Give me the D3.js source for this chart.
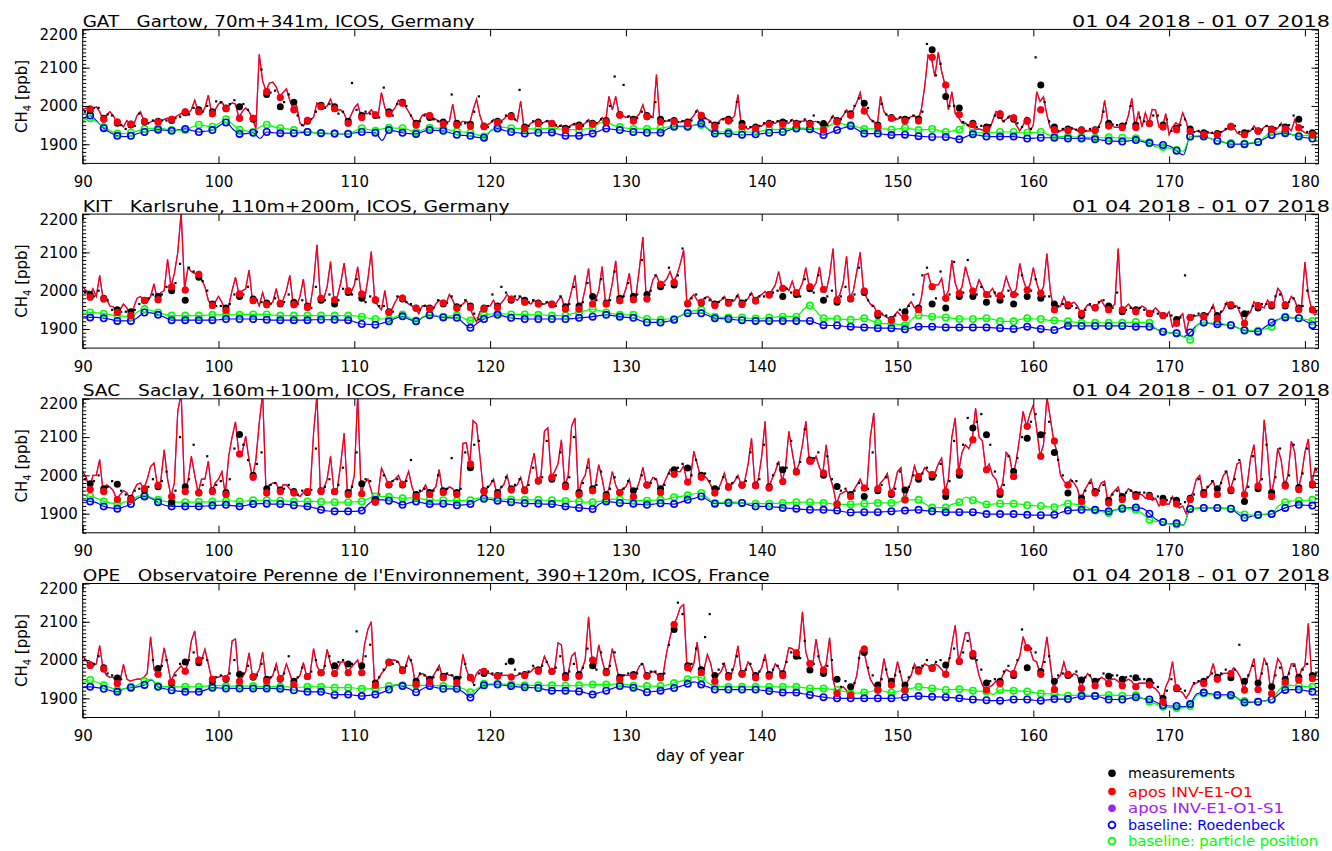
<!DOCTYPE html>
<html><head><meta charset="utf-8">
<script src="https://cdn.jsdelivr.net/npm/d3@7/dist/d3.min.js"></script>
<style>
html,body{margin:0;padding:0;background:#fff;}
svg text{font-family:"DejaVu Sans",sans-serif;fill:#000;}
</style></head>
<body>
<svg id="chart" width="1332" height="851"></svg>
<script>
// ---------------- DATA (CH4 ppb, day of year 90..180) ----------------
const dayTicks = [90,100,110,120,130,140,150,160,170,180];
const ppbTicks = [1900,2000,2100,2200];
const stationTitles = [
  "GAT   Gartow, 70m+341m, ICOS, Germany",
  "KIT   Karlsruhe, 110m+200m, ICOS, Germany",
  "SAC   Saclay, 160m+100m, ICOS, France",
  "OPE   Observatoire Perenne de l'Environnement, 390+120m, ICOS, France"
];
const periodLabel = "01 04 2018 - 01 07 2018";
const legendLabels = ["measurements","apos INV-E1-O1","apos INV-E1-O1-S1","baseline: Roedenbeck","baseline: particle position"];

// model (apos) : 4 values per day (00,06,12,18 h)
const gatModel = [
[1990,1995,1988,1992],[1998,1985,1965,1975],[1985,1975,1958,1955],[1945,1962,1953,1950],[1975,1985,1962,1955],
[1958,1962,1958,1960],[1965,1968,1965,1970],[1975,1980,1985,1980],[1990,2015,1985,1980],[1995,2028,1980,1990],
[2005,2010,1995,2000],[2008,2005,1970,1985],[1995,1985,1968,1940],[2135,2065,2040,2060],[2062,2050,2025,2035],
[2045,2015,1992,2000],[1955,1948,1963,1965],[1970,2008,1998,1995],[2000,2018,1993,1990],[1990,1980,1958,1975],
[1995,2005,1972,1980],[1980,1990,1978,1975],[2035,1995,1980,1985],[1995,2015,2007,2000],[1985,1970,1952,1960],
[1975,1980,1975,1970],[1965,1960,1955,1958],[1960,2005,1952,1955],[1960,1958,1955,1990],[2018,1975,1948,1950],
[1955,1965,1957,1960],[1965,1975,1972,1968],[1960,2013,1941,1945],[1955,1960,1954,1955],[1958,1962,1954,1950],
[1945,1950,1937,1945],[1950,1955,1946,1950],[1955,1965,1952,1955],[1958,1970,1959,2025],[1990,2025,1976,1975],
[1970,1975,1961,1970],[1980,2003,1972,1975],[1970,2082,1959,1962],[1960,1965,1959,1960],[1958,1962,1954,1965],
[1975,1990,1976,1970],[1965,1960,1946,1955],[1965,1968,1961,1965],[1975,2030,1946,1945],[1940,1945,1941,1945],
[1948,1955,1952,1955],[1955,1962,1952,1955],[1955,1965,1952,1960],[1960,1962,1952,1958],[1960,1955,1937,1950],
[1960,1975,1959,1965],[1975,1990,1976,1990],[2010,2035,1987,1980],[1965,1960,1946,2025],[1985,1975,1968,1970],
[1965,1972,1961,1968],[1972,1975,1962,1990],[2050,2133,2125,2077],[2140,2090,2055,1990],[2037,1980,1970,1955],
[1955,1947,1950,1939],[1940,1937,1938,1938],[1960,1986,1980,1960],[1965,1975,1969,1950],[1935,1950,1969,1934],
[1950,2037,2012,2024],[1977,1943,1938,1930],[1935,1938,1936,1940],[1940,1935,1936,1934],[1935,1935,1936,1943],
[1960,2015,1956,1950],[1944,1944,1944,1947],[1975,2020,1944,1986],[1945,1982,1954,1991],[1990,1945,1943,1980],
[1925,1945,1956,1950],[1982,1960,1925,1930],[1934,1932,1925,1928],[1930,1928,1925,1930],[1935,1940,1947,1945],
[1930,1925,1925,1930],[1935,1948,1934,1935],[1945,1948,1938,1935],[1942,1955,1940,1945],[1935,1964,1943,1936],
[1930,1928,1925,1925]];
const kitModel = [
[2010,2000,1983,2005],[1985,2040,1978,1980],[1960,1958,1943,1950],[1965,1955,1935,1955],[1980,1985,1974,1970],
[1985,2018,1976,1995],[2000,2082,2010,2045],[2100,2205,2005,2060],[2050,2045,2040,2030],[2010,1975,1960,1970],
[1985,1970,1948,1960],[2000,2035,1991,2000],[2005,2054,1974,1980],[1960,1995,1963,1965],[1970,2005,1967,1975],
[2000,2040,1963,1960],[1985,2030,1956,1960],[2020,2120,1980,1980],[2010,2076,1976,1985],[2020,2072,2000,1995],
[2015,2062,1991,1975],[2030,2102,1976,1960],[1950,2000,1943,1950],[1970,1985,1981,1975],[1965,1960,1954,1940],
[1960,1962,1952,1950],[1965,1975,1968,1965],[1990,1975,1954,1960],[1965,1975,1956,1935],[1918,1945,1952,1960],
[1960,1975,1956,1965],[1975,1990,1978,1980],[1975,1985,1970,1970],[1965,1975,1965,1965],[1965,1970,1963,1960],
[1975,1985,1952,1965],[2000,2040,1952,1965],[2005,2058,1965,1975],[2000,2063,1965,1975],[2020,2078,1974,1980],
[2005,2045,1976,1990],[2060,2140,1978,1995],[2030,2040,2017,2020],[2030,2050,2024,2040],[2070,2106,1962,1980],
[1990,1975,1970,1980],[1985,1978,1961,1970],[1975,1985,1967,1970],[1975,1990,1964,1970],[1980,1995,1973,1985],
[1990,1998,1989,2000],[2015,2050,2006,2010],[2000,2025,1995,2000],[2020,2060,2010,2005],[2020,2062,2003,2000],
[2040,2110,1976,1990],[2020,2090,1980,2000],[2050,2100,1999,1980],[1965,1960,1941,1940],[1935,1930,1923,1935],
[1945,1935,1930,1960],[1971,1955,1950,1980],[2041,2045,2010,2015],[2015,2032,1980,2000],[2080,2020,1993,2010],
[2063,2030,1999,2000],[2028,2010,1990,1995],[2006,1985,1987,2000],[2036,2010,1990,2005],[2071,2030,2002,2015],
[2060,2020,1993,2010],[2097,2000,1950,1955],[1960,1984,1963,1965],[1970,1960,1941,1950],[1963,1960,1956,1965],
[1975,1960,1950,1955],[1965,2110,1950,1955],[1965,1955,1945,1950],[1960,1955,1941,1945],[1955,1945,1935,1935],
[1945,1905,1915,1930],[1940,1890,1930,1932],[1935,1935,1932,1935],[1945,1963,1928,1940],[1950,1970,1963,1960],
[1960,1940,1915,1935],[1945,1971,1961,1960],[1955,1975,1963,1970],[2006,1995,1963,1965],[1985,1975,1950,1960],
[2075,1990,1950,1935]];
const sacModel = [
[2010,1995,1963,2000],[2000,2041,1958,1975],[1970,1960,1937,1950],[1960,1955,1937,1960],[1976,1980,1965,1990],
[2023,2032,1974,1985],[2067,1990,1945,1980],[2167,2215,1958,1985],[2050,2000,1954,1990],[1990,2037,1955,1980],
[1990,2010,1950,2050],[2100,2140,2056,2060],[2102,2040,1995,2040],[2137,2215,1954,1975],[1980,1980,1958,1975],
[1975,1965,1954,1950],[1945,1955,1958,1960],[2110,2210,1958,1965],[1990,2050,1958,1965],[2030,2110,1950,1960],
[2000,2210,1952,1980],[1990,1960,1930,1950],[2019,2000,1976,1985],[1990,2000,1977,1985],[2010,1970,1945,1955],
[1960,1975,1950,1960],[1970,2015,1955,1960],[1970,1965,1950,1960],[2084,2085,2030,2143],[2134,2050,1958,1965],
[1975,1990,1950,1965],[1975,2000,1962,1970],[1975,1995,1960,1975],[2020,2058,1985,2000],[2115,2124,1995,2010],
[2030,2093,1970,2000],[2128,2150,1950,1985],[2000,2045,1960,1975],[2028,1990,1945,1965],[2010,1975,1955,1965],
[1970,1990,1945,1960],[1985,2021,1975,1980],[1995,1990,1955,1975],[1995,2015,2003,2010],[2010,2025,1983,1990],
[2063,2030,1995,2000],[1990,1975,1954,1960],[1980,2006,1969,1975],[1985,2000,1974,1985],[2030,2097,1973,1990],
[2050,2141,1967,1990],[2010,2037,1984,2020],[2115,2060,2009,2030],[2080,2141,2037,2030],[2050,2020,2006,2080],
[2000,1970,1925,1950],[1955,1960,1945,1960],[1975,1990,1967,1970],[2100,2163,1965,1980],[1990,2005,1954,1970],
[2010,2020,1936,1960],[1985,2025,1997,2000],[2020,2010,2002,2005],[2030,2045,1958,1990],[2100,2150,2010,2060],
[2080,2070,2093,2176],[2100,2090,2015,2030],[2000,1990,1958,1980],[2060,2050,1997,2040],[2100,2167,2128,2160],
[2184,2120,2050,2080],[2205,2150,2090,2060],[2000,1985,1975,1990],[1980,1965,1932,1960],[1975,1990,1954,1960],
[1980,1985,1928,1950],[1960,1970,1937,1950],[1965,1960,1945,1950],[1950,1940,1945,1935],[1940,1920,1930,1925],
[1925,1945,1925,1915],[1920,1900,1937,1955],[1990,2000,1950,1965],[1975,1985,1950,1975],[2000,2010,1963,1990],
[2030,2035,1950,1975],[2045,2080,1972,1990],[2145,2060,1945,1990],[2071,2040,1972,2000],[2089,2060,1963,2000],
[2060,2095,1978,2020]];
const opeModel = [
[2010,2000,1986,1985],[1990,2038,1977,1960],[1955,1955,1939,1945],[1989,1950,1945,1948],[1950,1950,1955,1965],
[2061,1975,1963,1980],[2032,1990,1943,1965],[1975,1985,1971,1990],[2050,2076,2000,2000],[2028,1990,1950,1955],
[1955,1960,1952,1965],[2050,2055,1945,1955],[1970,2019,1957,1960],[1975,2021,1945,1950],[1960,1990,1952,1960],
[1990,1965,1936,1950],[1960,1993,1957,1965],[2030,1985,1967,1975],[2028,1990,1965,1975],[1995,1995,1967,1980],
[1990,2000,1967,2040],[2080,2100,1934,1950],[1965,1975,1993,2000],[2000,1995,1972,1980],[2010,1990,1937,1960],
[1965,1960,1943,1955],[1970,1986,1954,1965],[1960,1960,1941,1950],[2015,1975,1954,1940],[1965,1975,1971,1965],
[1965,1960,1958,1960],[1960,1960,1956,1958],[1960,1965,1960,1965],[1970,1980,1971,1980],[2010,1990,1971,1975],
[2045,2040,1954,1965],[2010,2019,1958,1975],[2000,2113,2000,1980],[2040,2000,1967,1980],[2030,1990,1950,1960],
[1960,1960,1958,1965],[1985,1990,1958,1965],[1970,1965,1954,1965],[2020,2060,2093,2110],[2137,2145,1980,1970],
[1990,2047,1967,1975],[2015,1990,1945,1960],[1970,1990,1956,1960],[1990,2037,1963,1970],[1995,1980,1954,1965],
[1980,2015,1958,1965],[1990,1980,1960,1990],[2032,2030,2019,2030],[2126,2020,1991,1985],[2055,2000,1974,1990],
[2058,1950,1913,1925],[1930,1920,1909,1930],[1960,2024,2029,1985],[1950,1935,1922,1945],[2004,1960,1935,1950],
[1996,1960,1922,1945],[1960,1990,1971,1975],[1990,1985,1978,1990],[1985,1975,1963,1990],[2040,2091,1997,2030],
[2071,2071,2017,2000],[1960,1935,1922,1930],[1935,1945,1939,1960],[1975,1970,1965,1990],[2010,2061,2032,2030],
[2000,1995,1963,2000],[2061,1990,1923,1950],[1960,1995,1963,1955],[1965,1960,1926,1950],[1965,1955,1933,1945],
[1955,1950,1939,1950],[1950,1945,1933,1945],[1950,1945,1930,1940],[1940,1940,1935,1930],[1925,1915,1891,1930],
[1950,1996,1928,1920],[1915,1900,1915,1935],[1940,1945,1939,1950],[1960,1991,1950,1960],[1965,1965,1965,1980],
[1970,1955,1922,1950],[1975,2004,1923,1960],[2004,1985,1913,1960],[2004,1990,1942,1960],[1990,1990,1948,1975],
[1985,2096,1952,1960]];

// measurements : 3 samples per day (04,12,20 h)
const gatObs = [
[1985,1988,1995],[1995,1970,1978],[1975,1955,1950],[1940,1950,1948],[1980,1958,1955],
[1962,1960,1962],[1962,1960,1968],[1972,1982,1978],[1995,1990,1985],[2000,1985,2012],
[2010,1995,2005],[2015,1998,2005],[1990,1965,1932],[2095,2030,2035],[2040,2000,2010],
[2030,1985,1975],[1950,1960,1965],[1985,2002,1995],[2005,1998,1980],[1985,1960,2060],
[1990,1975,1985],[1980,1975,1970],[2048,1985,1975],[2005,2010,2000],[1975,1955,1960],
[1975,1970,1965],[1960,1958,1955],[2030,1955,1952],[1955,1952,1985],[2025,1948,1945],
[1960,1960,1958],[1975,1975,1965],[2042,1945,1948],[1960,1958,1955],[1960,1955,1950],
[1948,1942,1945],[1952,1950,1948],[1960,1955,1955],[1965,1962,2000],[2077,1978,2055],
[1972,1965,1968],[1985,1975,1972],[2010,1965,1960],[1962,1962,1958],[1960,1958,1962],
[1985,1972,1968],[1958,1950,1955],[1965,1965,1962],[2010,1955,1945],[1945,1945,1948],
[1955,1955,1958],[1960,1958,1960],[1962,1955,1958],[1965,1955,1975],[1958,1954,1950],
[1970,1962,1965],[1985,1980,2000],[2020,2007,1995],[1960,1950,2005],[1978,1970,1965],
[1970,1965,1968],[1975,1966,1985],[2162,2147,2080],[2110,2025,2000],[2000,1995,1958],
[1950,1955,1945],[1948,1945,1950],[1975,1975,1960],[1970,1965,1955],[1945,1962,1940],
[2127,2055,2010],[1960,1945,1935],[1940,1940,1942],[1938,1938,1935],[1940,1938,1945],
[1985,1955,1952],[1950,1948,1955],[2000,1950,1970],[1960,1955,1975],[1975,1950,1965],
[1935,1942,1950],[1965,1940,1932],[1935,1930,1932],[1930,1928,1932],[1940,1945,1948],
[1932,1930,1935],[1940,1935,1938],[1948,1940,1942],[1950,1945,1950],[1975,1965,1945],
[1932,1930,1928]];
const kitObs = [
[1995,1990,1985],[2000,1980,1975],[1950,1948,1945],[1945,1945,1950],[1965,1975,1980],
[1990,1985,1990],[2010,2000,2020],[2070,1975,2060],[2050,2035,2025],[2000,1965,1960],
[1960,1955,1965],[1990,1985,1990],[2010,1978,1975],[1970,1968,1965],[1980,1965,1970],
[1990,1970,1965],[1975,1960,1955],[2010,1975,1975],[1990,1965,1975],[2005,1995,1990],
[2030,1980,1970],[1985,1975,1960],[1960,1945,1945],[1985,1978,1970],[1965,1955,1950],
[1960,1955,1955],[1975,1965,1968],[1985,1958,1960],[1975,1960,1940],[1925,1955,1960],
[1990,1960,2010],[1995,1975,1985],[1985,1975,1970],[1975,1968,1965],[1970,1965,1960],
[1985,1958,1965],[2010,1960,1970],[2020,1985,1975],[2030,1968,1975],[2050,1980,1985],
[2020,1985,1990],[2080,1990,2000],[2040,2010,2015],[2060,2015,2040],[2110,1965,1980],
[1990,1968,1980],[1975,1965,1970],[1980,1970,1975],[1985,1968,1975],[1990,1975,1985],
[1985,1990,1995],[2000,1985,2005],[1995,1990,1985],[2030,2005,1995],[2040,1975,1985],
[2000,1970,1985],[2010,1978,1990],[2060,1995,1975],[1960,1935,1940],[1935,1925,1935],
[1950,1945,1960],[1990,1955,2040],[2060,1965,1980],[2050,1955,1990],[2075,1985,1995],
[2080,1985,1990],[2010,1970,1985],[1995,1975,1985],[2000,1965,1990],[2040,1985,2000],
[2030,1980,1985],[1985,1965,1960],[1965,1960,1960],[1955,1935,1950],[1965,1955,1970],
[1975,1960,1955],[1995,1945,1950],[1955,1950,1955],[1950,1940,1945],[1940,1935,1935],
[1935,1925,1930],[2040,1930,1935],[1940,1935,1938],[1955,1935,1945],[1965,1960,1958],
[1955,1940,1945],[1960,1955,1965],[1965,1960,1985],[1990,1960,1970],[1980,1955,1960],
[2000,1950,1945]];
const sacObs = [
[1990,1978,1985],[2000,1965,1970],[1985,1977,1960],[1950,1940,1960],[1965,1962,1970],
[1990,1970,1985],[2010,1930,1960],[2100,1970,1990],[2080,1955,1975],[2050,1960,1975],
[1985,1955,1990],[2070,2107,2080],[2040,2000,2030],[2060,1965,1975],[1980,1962,1965],
[1975,1958,1950],[1960,1955,1962],[2070,1960,1970],[1990,1958,1975],[2020,1955,1970],
[2060,1978,1990],[1985,1935,1950],[2000,1975,1985],[1990,1975,1985],[2040,1950,1960],
[1965,1955,1960],[2000,1960,1965],[2045,1955,1965],[2060,2020,2080],[2090,1960,1970],
[1985,1955,1970],[1995,1965,1975],[1990,1962,1975],[2020,1985,1995],[2090,1990,2000],
[2060,1975,1995],[2100,1955,1980],[2020,1965,1975],[2010,1950,1965],[1995,1955,1965],
[1985,1960,1965],[2000,1975,1980],[1990,1965,1975],[2005,2015,2020],[2030,2019,2000],
[2040,2000,2005],[1985,1965,1965],[1995,1970,1980],[1995,1975,1985],[2060,1975,1990],
[2080,1970,2000],[2030,2015,2020],[2090,2010,2035],[2120,2040,2045],[2060,2000,2050],
[1990,1971,1960],[1965,1950,1960],[1980,1945,1965],[2060,1960,1975],[1995,1950,1965],
[2010,1962,1970],[2000,1990,2005],[2020,1995,2000],[2030,1945,1985],[2090,2000,2080],
[2150,2124,2140],[2160,2106,2080],[2010,1950,1975],[2050,2010,2045],[2100,2097,2140],
[2160,2106,2110],[2140,2060,2040],[2000,1954,1985],[1985,1941,1960],[1980,1958,1960],
[1975,1935,1950],[1960,1945,1955],[1960,1950,1955],[1955,1948,1940],[1945,1940,1935],
[1940,1935,1925],[1930,1940,1950],[1990,1955,1970],[1985,1965,1980],[2010,1960,1990],
[2040,1932,1970],[2050,1965,1990],[2080,1955,1995],[2070,1975,2000],[2080,1968,2005],
[2070,1975,2015]];
const opeObs = [
[2000,1988,1990],[2010,1980,1965],[1960,1953,1950],[null,null,null],[null,null,null],
[2000,1978,1985],[2000,1940,1960],[1990,1995,2000],[2020,1993,2005],[2000,1945,1955],
[1960,1950,1965],[2000,1963,1965],[1985,1955,1960],[1990,1950,1955],[1975,1950,1965],
[2010,1945,1955],[1980,1957,1970],[2000,1967,1985],[2010,1985,1995],[2000,1990,1990],
[2075,1985,2010],[2040,1940,1955],[1975,1995,1990],[1995,1975,1985],[2000,1945,1965],
[1960,1950,1955],[1975,1958,1965],[1960,1950,1955],[1990,1955,1935],[1965,1965,1970],
[1965,1960,1965],[1990,1997,1975],[1965,1962,1970],[1985,1975,1985],[1995,1970,1980],
[2010,1960,1970],[1990,1962,1980],[2030,1985,1975],[2020,1970,1985],[2020,1955,1960],
[1965,1962,1965],[1990,1960,1970],[1970,1958,1965],[2040,2080,2150],[2120,1985,1990],
[2030,1975,2060],[2120,1960,1975],[1990,1960,1975],[2010,1965,1975],[1990,1960,1970],
[2000,1962,1975],[1985,1965,1995],[2020,2010,2005],[2050,1974,1990],[2010,1965,1985],
[2000,1950,1930],[1945,1930,1940],[2005,2020,1980],[1960,1935,1950],[1975,1945,1960],
[1970,1935,1955],[1980,1975,1985],[2000,1980,1995],[2000,1987,2005],[2030,1996,2020],
[2050,2010,2000],[1975,1940,1945],[1950,1945,1970],[1985,1960,2000],[2080,1980,2030],
[2020,1970,1995],[2010,1945,1960],[1965,1960,1960],[1970,1948,1955],[1960,1945,1950],
[1965,1958,1960],[1960,1950,1955],[1958,1954,1950],[1950,1945,1940],[1930,1900,1920],
[1950,1925,1925],[1920,null,1940],[1945,1945,1955],[1965,1955,1965],[1975,1954,1975],
[2040,1945,1960],[1985,1940,1965],[1990,1930,1960],[1980,1950,1965],[1985,1955,1975],
[1990,1960,1965]];

// daily afternoon means (one per day)
const gatObsDaily = [1988,1968,1955,1950,1958,1960,1962,1982,1990,1985,
1995,1998,1965,2030,1998,2010,1960,2002,1998,1960, 1975,1975,1985,2010,1955,1970,1958,1955,1952,1948,
1960,1975,1945,1958,1955,1942,1950,1955,1962,1978, 1965,1975,1965,1962,1958,1972,1950,1965,1955,1945,
1955,1958,1955,1955,1954,1962,1980,2007,1950,1970, 1965,1966,2147,2025,1995,1955,1945,1975,1965,1962,
2055,1945,1940,1938,1938,1955,1948,1950,1955,1950, 1942,1940,1930,1928,1945,1930,1935,1940,1945,1965, 1930];
const gatModelDaily = [1992,1965,1958,1953,1960,1958,1965,1985,1985,1980,
1993,1968,1968,2038,2022,1990,1963,1998,1993,1955, 1970,1977,1980,2007,1950,1975,1953,1950,1947,1946,
1957,1972,1941,1954,1954,1937,1946,1952,1959,1976, 1961,1972,1959,1959,1954,1976,1946,1961,1946,1941,
1952,1952,1952,1952,1937,1959,1976,1987,1946,1968, 1961,1961,2127,2055,1978,1951,1939,1980,1969,1960,
1990,1938,1936,1936,1936,1948,1944,1944,1954,1945, 1938,1934,1925,1925,1947,1925,1934,1938,1940,1943, 1925];
const kitObsDaily = [1990,1980,1950,1945,1975,1985,2000,1975,2035,1965,
1955,1985,1978,1968,1965,1970,1960,1975,1965,1995, 1980,1975,1945,1978,1955,1955,1965,1958,1960,1955,
1960,1975,1975,1968,1965,1958,1960,1985,1968,1980, 1985,1990,2010,2015,1965,1968,1965,1970,1968,1975,
1990,1985,1990,2005,1975,1970,1978,1995,1935,1925, 1945,1955,1965,1955,1985,1985,1970,1975,1965,1985,
1980,1965,1960,1935,1955,1960,1945,1950,1940,1935, 1925,1930,1935,1935,1960,1940,1955,1960,1960,1955, 1950];
const kitModelDaily = [1983,1978,1943,1935,1974,1976,2010,2002,2043,1961,
1948,1991,1974,1963,1967,1963,1956,1980,1976,2000, 1991,1976,1943,1981,1954,1952,1968,1954,1956,1952,
1956,1978,1970,1965,1963,1952,1952,1965,1965,1974, 1976,1978,2017,2022,1967,1970,1961,1967,1964,1973,
1989,2006,1995,2010,2003,1976,1980,1999,1941,1923, 1930,1950,2010,1980,1993,1999,1990,1987,1990,2002,
1993,1950,1963,1941,1956,1950,1950,1945,1941,1935, 1915,1930,1932,1928,1963,1915,1961,1963,1963,1950, 1950];
const sacObsDaily = [1978,1965,1977,1940,1962,1970,1930,1970,1955,1960,
1955,2107,2000,1965,1962,1958,1955,1960,1958,1955, 1978,1935,1975,1975,1950,1955,1960,1955,2020,1960,
1955,1965,1962,1985,1990,1975,1955,1965,1950,1955, 1960,1975,1965,2015,2019,2000,1965,1970,1975,1975,
1970,2015,2010,2040,2000,1971,1950,1945,1960,1950, 1962,1990,1995,1945,2000,2124,2106,1950,2010,2097,
2106,2060,1954,1941,1958,1935,1945,1950,1948,1940, 1935,1940,1955,1965,1960,1932,1965,1955,1975,1968, 1975];
const sacModelDaily = [1963,1958,1937,1937,1965,1974,1945,1958,1954,1958,
1950,2056,1995,1954,1958,1954,1958,1958,1958,1950, 1952,1930,1976,1977,1945,1950,1955,1950,2030,1958,
1950,1962,1960,1985,1995,1970,1950,1960,1945,1955, 1945,1975,1955,2003,1983,1995,1954,1969,1974,1973,
1967,1984,2009,2037,2006,1925,1945,1967,1965,1954, 1936,1997,2002,1958,2010,2093,2015,1958,1997,2128,
2050,2090,1975,1932,1954,1928,1937,1945,1945,1930, 1925,1937,1950,1950,1963,1950,1972,1945,1972,1963, 1978];
const opeObsDaily = [1988,1980,1953,null,null,1978,1940,1995,1993,1945,
1950,1963,1955,1950,1950,1945,1957,1967,1985,1990, 1985,1940,1995,1975,1945,1950,1958,1950,1955,1965,
1960,1997,1962,1975,1970,1960,1962,1985,1970,1955, 1962,1960,1958,2080,1985,1975,1960,1960,1965,1960,
1962,1965,2010,1974,1965,1950,1930,2020,1935,1945, 1935,1975,1980,1987,1996,2010,1940,1945,1960,1980,
1970,1945,1960,1948,1945,1958,1950,1954,1945,1900, 1925,null,1945,1955,1954,1945,1940,1930,1950,1955, 1960];
const opeModelDaily = [1986,1977,1939,null,null,1963,1943,1971,2000,1950,
1952,1945,1957,1945,1952,1936,1957,1967,1965,1967, 1967,1934,1993,1972,1937,1943,1954,1941,1954,1971,
1958,1956,1960,1971,1971,1954,1958,2000,1967,1950, 1958,1958,1954,2093,1980,1967,1945,1956,1963,1954,
1958,1960,2019,1991,1974,1913,1909,2029,1922,1935, 1922,1971,1978,1963,1997,2017,1922,1939,1965,2032,
1963,1923,1963,1926,1933,1939,1933,1930,1935,1891, 1928,null,1939,1950,1965,1922,1923,1913,1942,1948, 1952];

// baselines : 2 values per day (01 h, 13 h); the 13 h value is the daily marker
const gatRoed = [
[1968,1975],[1960,1942],[1930,1922],[1920,1922],[1928,1932],[1936,1938],[1937,1935],[1938,1940],[1936,1932],[1934,1937],
[1948,1957],[1940,1927],[1928,1930],[1915,1932],[1930,1929],[1929,1929],[1930,1932],[1930,1929],[1928,1928],[1927,1927],
[1930,1932],[1931,1930],[1910,1937],[1934,1930],[1928,1927],[1933,1937],[1936,1935],[1930,1925],[1923,1922],[1918,1917],
[1935,1941],[1936,1932],[1930,1928],[1929,1930],[1930,1931],[1926,1922],[1922,1922],[1925,1928],[1935,1941],[1939,1937],
[1934,1932],[1931,1930],[1930,1930],[1940,1946],[1946,1946],[1950,1954],[1940,1928],[1928,1928],[1926,1925],[1925,1926],
[1928,1930],[1931,1932],[1937,1941],[1940,1939],[1930,1924],[1930,1937],[1943,1948],[1938,1928],[1928,1928],[1926,1924],
[1925,1925],[1923,1921],[1920,1919],[1919,1919],[1916,1913],[1920,1926],[1923,1920],[1920,1920],[1920,1920],[1918,1915],
[1916,1917],[1917,1917],[1916,1915],[1915,1915],[1914,1913],[1911,1909],[1908,1907],[1909,1911],[1907,1903],[1898,1898],
[1895,1883],[1872,1920],[1920,1920],[1915,1909],[1905,1900],[1900,1900],[1903,1906],[1915,1924],[1927,1929],[1925,1920],
[1917,1915]];
const gatPart = [
[1962,1968],[1958,1945],[1935,1928],[1928,1930],[1935,1940],[1941,1942],[1940,1937],[1937,1937],[1945,1951],[1948,1946],
[1955,1965],[1952,1938],[1935,1932],[1945,1951],[1946,1942],[1940,1937],[1934,1932],[1931,1930],[1929,1928],[1928,1928],
[1935,1942],[1938,1935],[1940,1943],[1942,1942],[1937,1932],[1938,1943],[1942,1940],[1937,1933],[1932,1930],[1925,1920],
[1935,1945],[1944,1942],[1941,1940],[1940,1940],[1941,1942],[1940,1938],[1938,1938],[1940,1942],[1955,1958],[1950,1945],
[1942,1940],[1940,1940],[1940,1942],[1945,1948],[1948,1948],[1950,1950],[1940,1933],[1932,1932],[1932,1932],[1932,1932],
[1935,1938],[1938,1940],[1941,1942],[1942,1941],[1940,1940],[1950,1958],[1952,1950],[1945,1940],[1940,1940],[1940,1938],
[1940,1943],[1940,1937],[1938,1940],[1936,1932],[1935,1938],[1955,1930],[1930,1930],[1931,1932],[1932,1932],[1930,1930],
[1931,1932],[1925,1921],[1920,1920],[1919,1918],[1918,1917],[1917,1918],[1917,1917],[1916,1916],[1910,1905],[1893,1893],
[1890,1885],[1882,1920],[1922,1923],[1915,1908],[1905,1903],[1902,1902],[1904,1906],[1920,1932],[1932,1932],[1925,1922],
[1923,1923]];
const kitRoed = [
[1932,1930],[1930,1928],[1925,1921],[1921,1921],[1930,1943],[1942,1937],[1930,1923],[1923,1923],[1923,1923],[1923,1923],
[1924,1926],[1926,1926],[1926,1926],[1925,1924],[1923,1923],[1923,1923],[1923,1923],[1924,1924],[1924,1924],[1923,1923],
[1918,1913],[1912,1911],[1915,1920],[1928,1933],[1925,1920],[1930,1936],[1933,1930],[1929,1929],[1915,1903],[1915,1926],
[1932,1937],[1933,1929],[1927,1926],[1926,1926],[1926,1926],[1926,1926],[1927,1929],[1930,1932],[1935,1937],[1935,1932],
[1930,1929],[1922,1917],[1917,1917],[1920,1924],[1935,1941],[1941,1941],[1935,1928],[1927,1926],[1924,1923],[1922,1921],
[1921,1921],[1921,1921],[1921,1921],[1921,1921],[1915,1910],[1909,1909],[1907,1906],[1905,1904],[1903,1902],[1902,1902],
[1900,1899],[1903,1906],[1906,1906],[1905,1904],[1904,1904],[1904,1904],[1904,1904],[1903,1902],[1901,1900],[1903,1906],
[1903,1900],[1898,1897],[1903,1908],[1908,1908],[1908,1908],[1908,1908],[1908,1908],[1907,1906],[1906,1906],[1900,1893],
[1890,1889],[1880,1891],[1910,1917],[1914,1912],[1911,1910],[1903,1896],[1894,1893],[1905,1917],[1925,1930],[1929,1928],
[1920,1910]];
const kitPart = [
[1945,1943],[1942,1940],[1937,1935],[1933,1932],[1945,1952],[1948,1943],[1938,1935],[1935,1935],[1935,1935],[1936,1937],
[1937,1937],[1937,1937],[1938,1938],[1938,1938],[1936,1935],[1935,1935],[1935,1935],[1935,1935],[1935,1935],[1935,1935],
[1934,1932],[1928,1926],[1926,1926],[1932,1938],[1930,1922],[1932,1938],[1935,1932],[1934,1935],[1928,1922],[1930,1937],
[1939,1940],[1939,1938],[1938,1938],[1937,1937],[1936,1935],[1935,1935],[1940,1943],[1948,1952],[1948,1943],[1940,1937],
[1937,1937],[1930,1926],[1925,1924],[1926,1926],[1935,1943],[1948,1950],[1940,1932],[1930,1930],[1930,1930],[1928,1927],
[1928,1930],[1931,1932],[1932,1932],[1950,1961],[1945,1928],[1927,1926],[1925,1924],[1925,1928],[1922,1916],[1914,1914],
[1912,1910],[1925,1936],[1935,1932],[1931,1930],[1928,1926],[1926,1926],[1927,1928],[1925,1920],[1920,1920],[1925,1928],
[1926,1926],[1923,1922],[1921,1920],[1918,1916],[1916,1916],[1916,1916],[1916,1916],[1917,1918],[1917,1916],[1900,1893],
[1890,1889],[1880,1872],[1910,1917],[1915,1916],[1913,1910],[1903,1898],[1896,1895],[1900,1906],[1925,1932],[1930,1928],
[1925,1921]];
const sacRoed = [
[1935,1932],[1928,1919],[1915,1913],[1918,1925],[1940,1945],[1940,1930],[1922,1919],[1919,1919],[1919,1919],[1920,1921],
[1922,1923],[1921,1919],[1922,1925],[1926,1926],[1925,1925],[1924,1922],[1920,1919],[1915,1910],[1907,1906],[1906,1906],
[1906,1908],[1925,1936],[1936,1934],[1930,1923],[1928,1932],[1928,1925],[1925,1926],[1924,1922],[1923,1925],[1935,1939],
[1937,1934],[1932,1930],[1928,1927],[1926,1926],[1925,1925],[1922,1919],[1917,1915],[1914,1912],[1925,1932],[1930,1928],
[1927,1926],[1924,1923],[1925,1927],[1926,1925],[1930,1936],[1940,1945],[1935,1926],[1927,1928],[1928,1928],[1923,1919],
[1919,1919],[1917,1915],[1914,1913],[1911,1910],[1910,1910],[1909,1908],[1905,1903],[1904,1904],[1904,1904],[1905,1906],
[1907,1908],[1909,1910],[1908,1906],[1905,1904],[1904,1904],[1904,1904],[1902,1899],[1899,1899],[1899,1899],[1898,1897],
[1896,1896],[1896,1897],[1903,1908],[1909,1910],[1910,1910],[1908,1906],[1910,1913],[1915,1916],[1914,1900],[1885,1878],
[1873,1875],[1870,1912],[1914,1915],[1915,1915],[1914,1913],[1900,1889],[1893,1897],[1898,1899],[1908,1915],[1920,1923],
[1922,1921]];
const sacPart = [
[1948,1945],[1940,1932],[1928,1925],[1930,1935],[1945,1948],[1942,1936],[1932,1930],[1930,1930],[1930,1931],[1931,1932],
[1932,1933],[1933,1932],[1933,1935],[1935,1935],[1934,1934],[1933,1932],[1932,1932],[1932,1931],[1930,1930],[1930,1930],
[1931,1932],[1940,1945],[1945,1944],[1942,1940],[1941,1942],[1938,1936],[1935,1935],[1934,1934],[1934,1935],[1940,1942],
[1941,1940],[1938,1937],[1936,1936],[1936,1936],[1935,1935],[1934,1933],[1932,1932],[1930,1930],[1932,1936],[1938,1937],
[1936,1935],[1934,1934],[1935,1936],[1938,1943],[1945,1948],[1952,1954],[1940,1928],[1929,1930],[1930,1928],[1927,1926],
[1926,1926],[1927,1928],[1929,1930],[1930,1930],[1928,1928],[1926,1924],[1924,1924],[1925,1926],[1927,1928],[1928,1928],
[1930,1936],[1936,1936],[1925,1916],[1916,1916],[1925,1930],[1943,1935],[1930,1924],[1925,1926],[1926,1926],[1925,1922],
[1921,1920],[1918,1917],[1922,1926],[1925,1922],[1915,1908],[1905,1902],[1910,1915],[1913,1910],[1900,1884],[1880,1878],
[1873,1872],[1870,1913],[1914,1915],[1915,1915],[1914,1913],[1905,1898],[1896,1896],[1898,1900],[1920,1930],[1933,1934],
[1935,1936]];
const opeRoed = [
[1930,1930],[1928,1925],[1920,1917],[1925,1928],[1930,1935],[1948,1930],[1925,1921],[1919,1917],[1917,1917],[1922,1928],
[1927,1926],[1926,1926],[1926,1926],[1926,1926],[1926,1925],[1923,1921],[1919,1917],[1917,1917],[1913,1909],[1910,1910],
[1908,1906],[1908,1910],[1915,1923],[1935,1932],[1925,1916],[1925,1932],[1928,1925],[1925,1925],[1915,1902],[1920,1934],
[1936,1936],[1934,1932],[1930,1929],[1928,1927],[1923,1920],[1920,1920],[1919,1918],[1914,1910],[1915,1920],[1926,1932],
[1930,1928],[1922,1916],[1918,1920],[1924,1927],[1932,1938],[1943,1936],[1930,1923],[1923,1923],[1923,1923],[1923,1923],
[1921,1919],[1917,1915],[1915,1915],[1912,1909],[1906,1903],[1901,1900],[1900,1900],[1900,1900],[1900,1900],[1900,1900],
[1901,1903],[1905,1906],[1905,1904],[1904,1903],[1902,1900],[1898,1897],[1896,1895],[1894,1894],[1895,1897],[1897,1897],
[1895,1894],[1896,1898],[1898,1898],[1902,1906],[1906,1906],[1902,1897],[1897,1897],[1900,1903],[1900,1897],[1890,1882],
[1880,1880],[1878,1885],[1912,1915],[1912,1909],[1909,1909],[1900,1889],[1890,1891],[1894,1897],[1910,1922],[1923,1923],
[1920,1917]];
const opePart = [
[1940,1948],[1942,1934],[1928,1922],[1925,1930],[1935,1945],[1950,1932],[1931,1930],[1930,1930],[1930,1930],[1932,1933],
[1933,1932],[1932,1932],[1932,1932],[1931,1931],[1931,1930],[1930,1929],[1929,1930],[1930,1930],[1929,1928],[1928,1928],
[1927,1925],[1925,1926],[1928,1932],[1935,1934],[1934,1934],[1934,1934],[1933,1932],[1932,1930],[1925,1916],[1925,1938],
[1938,1938],[1937,1936],[1935,1934],[1934,1934],[1934,1934],[1933,1933],[1933,1934],[1935,1936],[1936,1936],[1937,1938],
[1936,1933],[1932,1932],[1932,1932],[1935,1940],[1945,1950],[1956,1954],[1940,1932],[1931,1930],[1930,1930],[1930,1930],
[1930,1930],[1930,1930],[1930,1930],[1928,1926],[1926,1926],[1924,1922],[1918,1913],[1914,1915],[1918,1922],[1918,1915],
[1918,1922],[1926,1930],[1928,1926],[1924,1922],[1923,1924],[1922,1920],[1918,1918],[1910,1922],[1921,1920],[1919,1918],
[1915,1913],[1912,1911],[1909,1907],[1908,1909],[1908,1907],[1908,1909],[1908,1907],[1907,1908],[1900,1891],[1885,1878],
[1876,1875],[1875,1880],[1908,1913],[1910,1907],[1907,1906],[1900,1893],[1892,1891],[1893,1897],[1920,1935],[1934,1932],
[1931,1930]];

// ---------------- LAYOUT ----------------
const X0 = 82.7, X1 = 1318.5, PH = 134;
const panelTops = [29.4, 214.1, 398.8, 583.5];
const titleWidths = [392, 427, 382, 687];
const C = {obs:"#000000", apos:"#ff0000", s1:"#a020f0", roed:"#0000ff", part:"#00ff00"};

const stations = [
  {model:gatModel, s1:gatModel, obs:gatObs, obsD:gatObsDaily, modD:gatModelDaily, roed:gatRoed, part:gatPart},
  {model:kitModel, s1:kitModel, obs:kitObs, obsD:kitObsDaily, modD:kitModelDaily, roed:kitRoed, part:kitPart},
  {model:sacModel, s1:sacModel, obs:sacObs, obsD:sacObsDaily, modD:sacModelDaily, roed:sacRoed, part:sacPart},
  {model:opeModel, s1:opeModel, obs:opeObs, obsD:opeObsDaily, modD:opeModelDaily, roed:opeRoed, part:opePart}
];

const svg = d3.select("#chart");
const xs = d3.scaleLinear().domain([90,181]).range([X0,X1]);
const hours4 = [0,0.25,0.5,0.75], hours3 = [0.17,0.5,0.83], hours2 = [0.05,0.55];
const nested = (arr, off) => arr.flatMap((day,i)=>day.map((v,j)=>({t:90+i+off[j], v, mark:j===off.length-1})));
const daily = arr => arr.map((v,i)=>({t:90+i+0.55, v}));
const defs = svg.append("defs");

stations.forEach((st, k) => {
  const top = panelTops[k], bot = top + PH;
  const ys = d3.scaleLinear().domain([1850,2200]).range([bot, top]);
  defs.append("clipPath").attr("id","clip"+k).append("rect")
     .attr("x",X0).attr("y",top).attr("width",X1-X0).attr("height",PH);
  const g = svg.append("g");
  const data = g.append("g").attr("clip-path",`url(#clip${k})`);

  const line = d3.line().defined(d=>d.v!=null).x(d=>xs(d.t)).y(d=>ys(d.v));
  const sline = d3.line().defined(d=>d.v!=null).x(d=>xs(d.t)).y(d=>ys(d.v)).curve(d3.curveMonotoneX);

  const mPts = nested(st.model, hours4), sPts = nested(st.s1, hours4);
  const oPts = nested(st.obs, hours3).filter(d=>d.v!=null);
  const rPts = nested(st.roed, hours2), pPts = nested(st.part, hours2);

  data.append("path").datum(rPts).attr("d",sline).attr("fill","none").attr("stroke",C.roed).attr("stroke-width",1.2);
  data.append("path").datum(pPts).attr("d",sline).attr("fill","none").attr("stroke",C.part).attr("stroke-width",1.2);
  data.append("path").datum(sPts).attr("d",line).attr("fill","none").attr("stroke",C.s1).attr("stroke-width",1.2);
  data.append("path").datum(mPts).attr("d",line).attr("fill","none").attr("stroke",C.apos).attr("stroke-width",1.2);
  data.append("g").selectAll("rect").data(oPts).join("rect")
     .attr("x",d=>xs(d.t)-1.1).attr("y",d=>ys(d.v)-1.1).attr("width",2.2).attr("height",2.2).attr("fill",C.obs);

  const ring = (pts,color) => data.append("g").selectAll("circle").data(pts.filter(d=>d.mark&&d.v!=null)).join("circle")
     .attr("cx",d=>xs(d.t)).attr("cy",d=>ys(d.v)).attr("r",3.2).attr("fill","none").attr("stroke",color).attr("stroke-width",1.6);
  ring(pPts, C.part);
  ring(rPts, C.roed);
  const dot = (pts,color) => data.append("g").selectAll("circle").data(pts.filter(d=>d.v!=null)).join("circle")
     .attr("cx",d=>xs(d.t)).attr("cy",d=>ys(d.v)).attr("r",3.5).attr("fill",color);
  dot(daily(st.obsD), C.obs);
  dot(daily(st.modD), C.s1);
  dot(daily(st.modD), C.apos);

  // frame
  g.append("rect").attr("x",X0).attr("y",top).attr("width",X1-X0).attr("height",PH)
   .attr("fill","none").attr("stroke","#000").attr("stroke-width",1);

  const axisG = (gen, tx, ty) => g.append("g").attr("transform",`translate(${tx},${ty})`).call(gen)
      .call(s=>s.select(".domain").remove());
  const minor = d3.range(1850,2201,10);
  axisG(d3.axisRight(ys).tickValues(minor).tickSize(3.5).tickFormat(""), X0, 0);
  axisG(d3.axisRight(ys).tickValues(ppbTicks).tickSize(7).tickFormat(""), X0, 0);
  axisG(d3.axisLeft(ys).tickValues(minor).tickSize(3.5).tickFormat(""), X1, 0);
  axisG(d3.axisLeft(ys).tickValues(ppbTicks).tickSize(7).tickFormat(""), X1, 0);
  axisG(d3.axisBottom(xs).tickValues(dayTicks).tickSize(7).tickFormat(""), 0, top);
  axisG(d3.axisTop(xs).tickValues(dayTicks).tickSize(7).tickFormat(""), 0, bot);

  const yl = axisG(d3.axisLeft(ys).tickValues(ppbTicks).tickSize(0).tickPadding(5).tickFormat(d3.format("d")), X0, 0);
  yl.attr("font-family","DejaVu Sans").attr("font-size",15);
  yl.selectAll("text").filter(d=>d===2200).attr("dy","0.66em");
  const xl = axisG(d3.axisBottom(xs).tickValues(dayTicks).tickSize(0).tickFormat(d3.format("d")), 0, bot);
  xl.attr("font-family","DejaVu Sans").attr("font-size",15);
  xl.selectAll("text").attr("y",23.5).attr("dy",0);

  // titles
  g.append("text").attr("x",X0).attr("y",top-2.4).attr("font-size",16)
   .attr("xml:space","preserve").style("white-space","pre")
   .attr("textLength",titleWidths[k]).attr("lengthAdjust","spacingAndGlyphs").text(stationTitles[k]);
  g.append("text").attr("x",1330).attr("y",top-2.4).attr("font-size",16).attr("text-anchor","end")
   .attr("textLength",258).attr("lengthAdjust","spacingAndGlyphs").text(periodLabel);

  // y label
  const yt = g.append("text").attr("transform",`translate(27,${top+PH/2}) rotate(-90)`)
    .attr("text-anchor","middle").attr("font-size",15);
  yt.append("tspan").text("CH");
  yt.append("tspan").attr("font-size",10).attr("dy",4).text("4");
  yt.append("tspan").attr("dy",-4).text(" [ppb]");
});

svg.append("text").attr("x",700).attr("y",761).attr("text-anchor","middle").attr("font-size",15)
   .attr("textLength",88).attr("lengthAdjust","spacingAndGlyphs").text("day of year");

// legend
const legY = [773.3, 791.5, 808.3, 825, 841];
const legW = [107, 125, 156, 157, 190];
const legColors = [C.obs, C.apos, C.s1, C.roed, C.part];
const leg = svg.append("g");
legendLabels.forEach((lab,i)=>{
  if (i < 3) leg.append("circle").attr("cx",1112).attr("cy",legY[i]).attr("r",3.8).attr("fill",legColors[i]);
  else leg.append("circle").attr("cx",1112).attr("cy",legY[i]).attr("r",3.4).attr("fill","none")
          .attr("stroke",legColors[i]).attr("stroke-width",1.8);
  leg.append("text").attr("x",1128).attr("y",legY[i]).attr("dy","0.36em").attr("font-size",14)
     .style("fill",legColors[i]).attr("textLength",legW[i]).attr("lengthAdjust","spacingAndGlyphs").text(lab);
});
</script>
</body></html>
